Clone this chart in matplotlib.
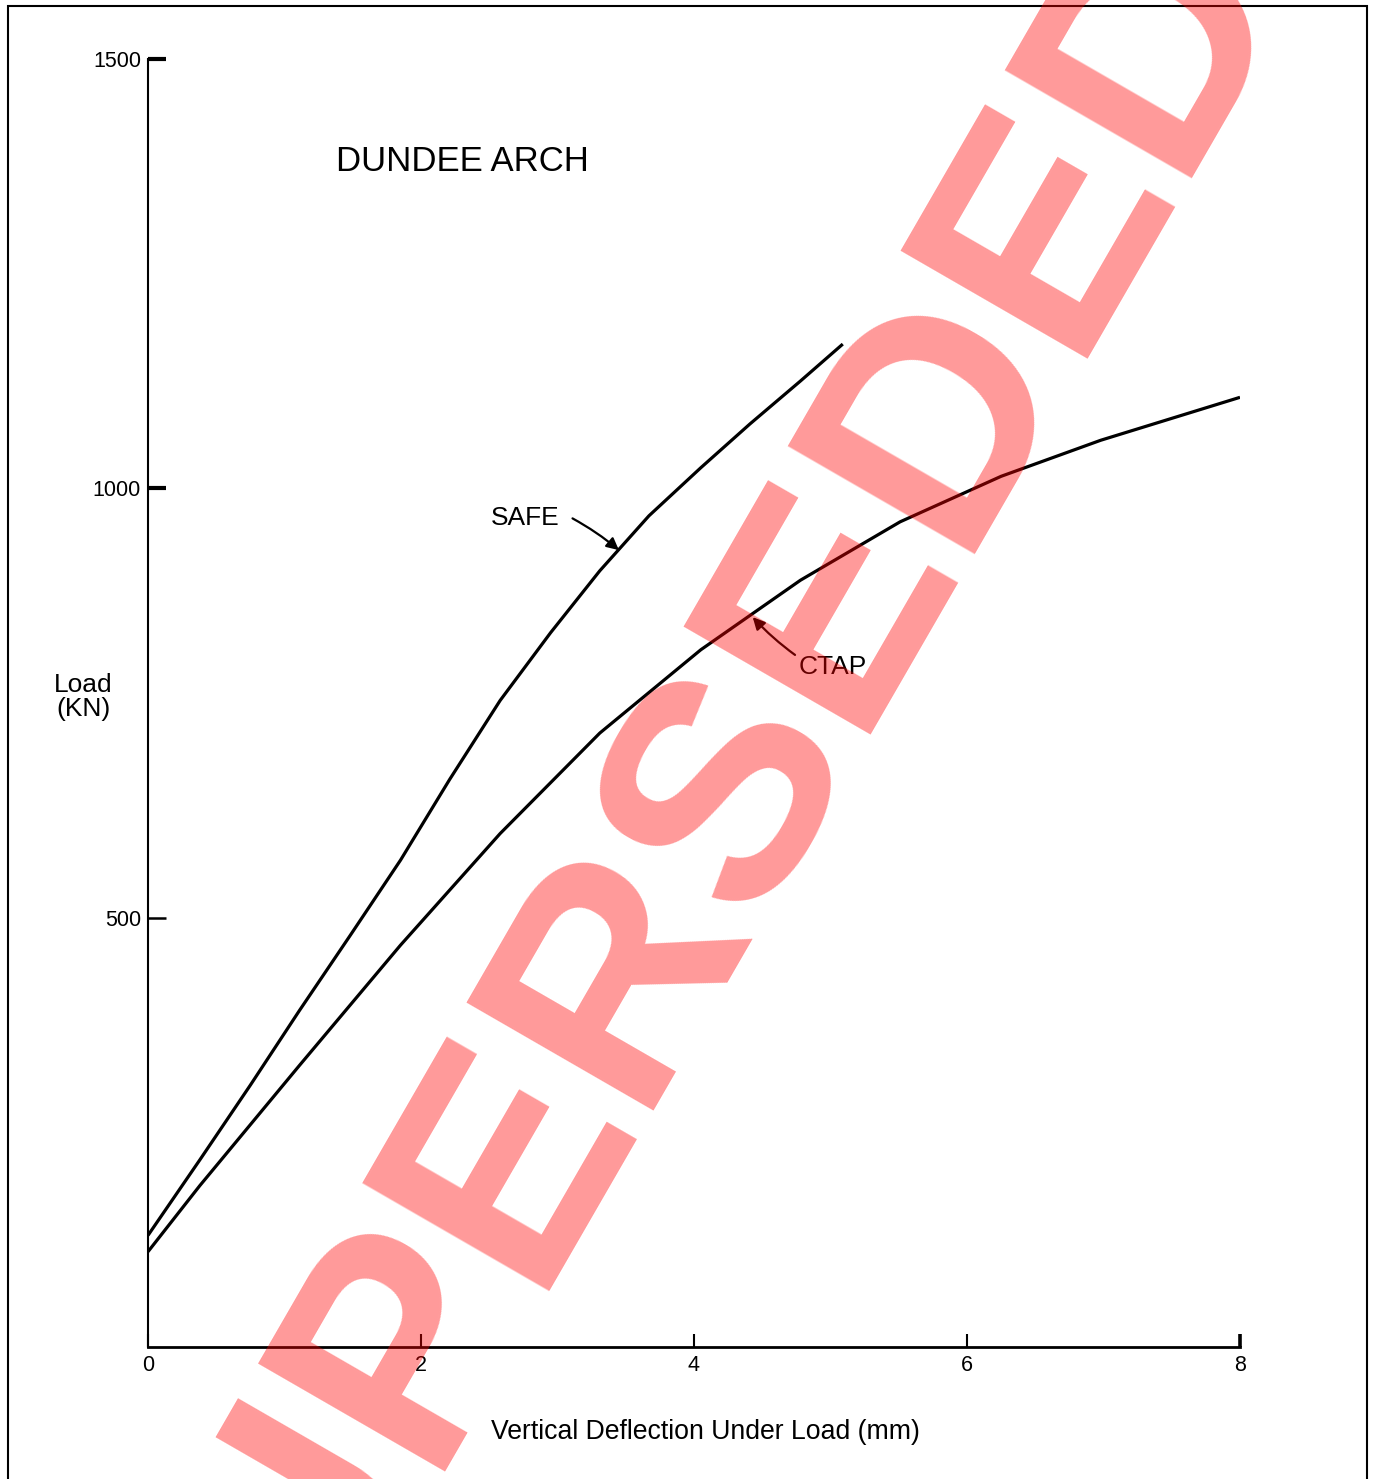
import matplotlib
matplotlib.use("Agg")
import matplotlib.pyplot as plt
from matplotlib.patches import Rectangle

plt.rcParams["font.family"] = ["Liberation Sans", "DejaVu Sans"]

# Load-deflection curves (mm, kN)
safe_x = [0, 0.38, 0.75, 1.11, 1.48, 1.85, 2.21, 2.58, 2.95, 3.31, 3.67, 4.05, 4.41, 4.78, 5.09]
safe_y = [130, 218, 305, 392, 479, 567, 661, 753, 832, 904, 968, 1024, 1075, 1125, 1168]

ctap_x = [0, 0.38, 1.11, 1.85, 2.58, 3.31, 4.05, 4.78, 5.51, 6.25, 6.98, 8.0]
ctap_y = [111, 188, 328, 468, 598, 715, 812, 893, 961, 1014, 1056, 1106]

x_ticks = [0, 2, 4, 6, 8]
y_ticks = [500, 1000, 1500]

fig = plt.figure(figsize=(13.77, 14.79), dpi=100)
ax = fig.add_axes([148 / 1377, 132 / 1479, 1092 / 1377, 1288 / 1479])

ax.plot(safe_x, safe_y, color="black", lw=2.3, solid_capstyle="butt")
ax.plot(ctap_x, ctap_y, color="black", lw=2.3, solid_capstyle="butt")

ax.set_xlim(0, 8)
ax.set_ylim(0, 1500)
ax.set_xticks(x_ticks)
ax.set_yticks(y_ticks)
ax.set_xticklabels([str(v) for v in x_ticks])
ax.set_yticklabels([str(v) for v in y_ticks])

for s in ["top", "right"]:
    ax.spines[s].set_visible(False)
ax.spines["left"].set_linewidth(1.5)
ax.spines["bottom"].set_linewidth(2.0)

ax.tick_params(axis="y", direction="in", length=13, width=1.8, labelsize=15.5, pad=5)
ax.tick_params(axis="x", direction="in", length=9.5, width=1.5, labelsize=15.5, pad=6)
# heavier tick marks as in the original drawing
for t in ax.yaxis.get_major_ticks()[1:]:
    t.tick1line.set_markeredgewidth(3.0)
ax.xaxis.get_major_ticks()[-1].tick1line.set_markeredgewidth(2.6)

ax.text(1.38, 1381, "DUNDEE ARCH", fontsize=25, ha="left", va="center")

# curve labels with arrows
ax.text(2.76, 965, "SAFE", fontsize=19, ha="center", va="center")
ax.annotate("", xy=(3.45, 928), xytext=(3.11, 965),
            arrowprops=dict(arrowstyle="-|>", color="black", lw=1.6,
                            mutation_scale=18, connectionstyle="arc3,rad=-0.05",
                            shrinkA=0, shrinkB=0))
ax.text(4.77, 792, "CTAP", fontsize=19, ha="left", va="center")
ax.annotate("", xy=(4.43, 850), xytext=(4.74, 806),
            arrowprops=dict(arrowstyle="-|>", color="black", lw=1.6,
                            mutation_scale=18, connectionstyle="arc3,rad=-0.05",
                            shrinkA=0, shrinkB=0))

fig.text(83 / 1377, 1 - 697 / 1479, "Load\n(KN)", fontsize=19,
         ha="center", va="center", multialignment="center", linespacing=1.05)
fig.text(705 / 1377, 1 - 1432 / 1479, "Vertical Deflection Under Load (mm)",
         fontsize=19.2, ha="center", va="center")

# page border
fig.patches.append(Rectangle((8 / 1377, -0.05), 1359 / 1377, 1.05 - 6 / 1479,
                             transform=fig.transFigure, fill=False,
                             edgecolor="black", lw=1.5))

# watermark
fig.text(753 / 1377, 1 - 924 / 1479, "SUPERSEDED", fontsize=225, fontweight="bold",
         color="red", alpha=0.4, rotation=60, rotation_mode="anchor",
         ha="center", va="baseline", zorder=10)

fig.savefig("out.png", dpi=100)
